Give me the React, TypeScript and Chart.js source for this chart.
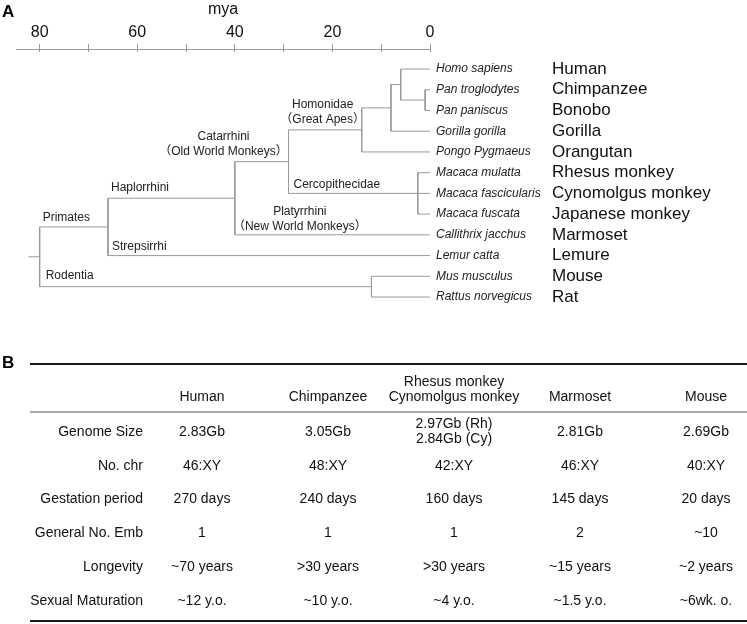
import React, { useEffect, useRef } from 'react';
import { Chart, registerables } from 'chart.js';

Chart.register(...registerables);

const FONT = "'Liberation Sans', Arial, 'Noto Sans CJK JP', sans-serif";
Chart.defaults.font.family = FONT;

// ---------- Panel A: phylogenetic tree data ----------
const speciesNames = [
  'Homo sapiens', 'Pan troglodytes', 'Pan paniscus', 'Gorilla gorilla', 'Pongo Pygmaeus',
  'Macaca mulatta', 'Macaca fascicularis', 'Macaca fuscata', 'Callithrix jacchus',
  'Lemur catta', 'Mus musculus', 'Rattus norvegicus',
];
const commonNames = [
  'Human', 'Chimpanzee', 'Bonobo', 'Gorilla', 'Orangutan', 'Rhesus monkey',
  'Cynomolgus monkey', 'Japanese monkey', 'Marmoset', 'Lemure', 'Mouse', 'Rat',
];
// internal nodes (divergence times in million years ago)
const nodeIds = ['pan', 'homoPan', 'african', 'hominidae', 'macaca', 'catarrhini', 'anthropoidea', 'haplorrhini', 'rodentia', 'primates'];
const nodeAges = [1, 6, 8, 14, 2.5, 29, 40, 66, 12, 80];
const nodeChildren: (number | string)[][] = [
  [1, 2], [0, 'pan'], ['homoPan', 3], ['african', 4], [5, 6, 7],
  ['hominidae', 'macaca'], ['catarrhini', 8], ['anthropoidea', 9], [10, 11], ['haplorrhini', 'rodentia'],
];
const rootAge = 82.3;
const axisMaxAge = 84.85;
const axisTicks = [80, 70, 60, 50, 40, 30, 20, 10, 0];
const axisLabelledTicks = [80, 60, 40, 20, 0];

const cladeLabels = [
  ['Primates'], ['Haplorrhini'], ['Strepsirrhi'], ['Rodentia'],
  ['Catarrhini', '（Old World Monkeys）'], ['Homonidae', '（Great Apes）'],
  ['Cercopithecidae'], ['Platyrrhini', '（New World Monkeys）'],
];
const cladeBranches: (number | string)[] = ['haplorrhini', 'anthropoidea', 9, 'rodentia', 'catarrhini', 'hominidae', 'macaca', 8];

// label placement styling (pixels relative to the branch)
const cladeLabelLayout = [
  { from: 'parent', align: 'left', dx: 3, dy: -9 },
  { from: 'parent', align: 'left', dx: 3, dy: -11 },
  { from: 'parent', align: 'left', dx: 4, dy: -9 },
  { from: 'parent', align: 'left', dx: 6, dy: -11 },
  { from: 'child', align: 'center', dx: -65, dy: -25 },
  { from: 'child', align: 'center', dx: -39, dy: -25 },
  { from: 'parent', align: 'left', dx: 5, dy: -9 },
  { from: 'parent', align: 'center', dx: 65, dy: -23 },
];

// ---------- Panel B: table data ----------
const columnKeys = ['Human', 'Chimpanzee', 'Rhesus/Cynomolgus', 'Marmoset', 'Mouse'];
const columnHeaders: (string | string[])[] = ['Human', 'Chimpanzee', ['Rhesus monkey', 'Cynomolgus monkey'], 'Marmoset', 'Mouse'];
const rowLabels = ['Genome Size', 'No. chr', 'Gestation period', 'General No. Emb', 'Longevity', 'Sexual Maturation'];
const genomeSize: (string | string[])[] = ['2.83Gb', '3.05Gb', ['2.97Gb (Rh)', '2.84Gb (Cy)'], '2.81Gb', '2.69Gb'];
const chromosomes = ['46:XY', '48:XY', '42:XY', '46:XY', '40:XY'];
const gestation = ['270 days', '240 days', '160 days', '145 days', '20 days'];
const embryos = ['1', '1', '1', '2', '~10'];
const longevity = ['~70 years', '>30 years', '>30 years', '~15 years', '~2 years'];
const maturation = ['~12 y.o.', '~10 y.o.', '~4 y.o.', '~1.5 y.o.', '~6wk. o.'];
const tableValues = [genomeSize, chromosomes, gestation, embryos, longevity, maturation];

const LINE = '#9a9a9a';
const alignPx = (p: number) => Math.round(p - 0.5) + 0.5;

function TreeChart() {
  const ref = useRef<HTMLCanvasElement>(null);
  useEffect(() => {
    const idx = (id: string) => nodeIds.indexOf(id);
    const yOf = (c: number | string): number => {
      if (typeof c === 'number') return c;
      const ch = nodeChildren[idx(c)];
      return (yOf(ch[0]) + yOf(ch[ch.length - 1])) / 2;
    };
    const ageOf = (c: number | string) => (typeof c === 'number' ? 0 : nodeAges[idx(c)]);
    const parentOf = (c: number | string) => nodeIds[nodeChildren.findIndex((ch) => ch.includes(c))];

    const segments: { x: number; y: number }[][] = [];
    nodeIds.forEach((id, i) => {
      const ch = nodeChildren[i];
      const a = nodeAges[i];
      segments.push([{ x: a, y: yOf(ch[0]) }, { x: a, y: yOf(ch[ch.length - 1]) }]);
      ch.forEach((c) => segments.push([{ x: a, y: yOf(c) }, { x: ageOf(c), y: yOf(c) }]));
    });
    segments.push([{ x: rootAge, y: yOf('primates') }, { x: ageOf('primates'), y: yOf('primates') }]);

    const datasets = segments.map((s) => ({
      data: s,
      showLine: true,
      borderColor: LINE,
      borderWidth: 1,
      pointRadius: 0,
      fill: false,
    }));

    const plugin = {
      id: 'treeText',
      afterDraw(chart: any) {
        const { ctx, chartArea } = chart;
        const x = chart.scales.x;
        const y = chart.scales.y;
        ctx.save();
        // tick extensions below the axis line
        ctx.strokeStyle = LINE;
        ctx.lineWidth = 1;
        axisTicks.forEach((v) => {
          const px = alignPx(x.getPixelForValue(v));
          ctx.beginPath();
          ctx.moveTo(px, chartArea.top);
          ctx.lineTo(px, chartArea.top + 3);
          ctx.stroke();
        });
        // panel letter
        ctx.fillStyle = '#000';
        ctx.textBaseline = 'middle';
        ctx.textAlign = 'left';
        ctx.font = `bold 17px ${FONT}`;
        ctx.fillText('A', 2, 12);
        // leaves
        const x0 = x.getPixelForValue(0);
        speciesNames.forEach((s, i) => {
          const py = y.getPixelForValue(i);
          ctx.font = `italic 12px ${FONT}`;
          ctx.fillStyle = '#222';
          ctx.fillText(s, x0 + 6, py);
          ctx.font = `17px ${FONT}`;
          ctx.fillStyle = '#111';
          ctx.fillText(commonNames[i], x0 + 122, py);
        });
        // clade labels
        ctx.font = `12px ${FONT}`;
        ctx.fillStyle = '#222';
        cladeLabels.forEach((lines, i) => {
          const br = cladeBranches[i];
          const lay = cladeLabelLayout[i];
          const anchorAge = lay.from === 'parent' ? ageOf(parentOf(br)) : ageOf(br);
          const ax = x.getPixelForValue(anchorAge) + lay.dx;
          const ay = y.getPixelForValue(yOf(br)) + lay.dy;
          ctx.textAlign = lay.align;
          lines.forEach((t, k) => ctx.fillText(t, ax, ay + k * 15));
        });
        ctx.restore();
      },
    };

    const chart = new Chart(ref.current!, {
      type: 'scatter',
      data: { datasets },
      options: {
        responsive: false,
        animation: false,
        devicePixelRatio: 1,
        events: [],
        layout: { padding: { left: 16, right: 317, top: 0, bottom: 10 } },
        plugins: { legend: { display: false }, tooltip: { enabled: false } },
        scales: {
          x: {
            type: 'linear',
            position: 'top',
            reverse: true,
            min: 0,
            max: axisMaxAge,
            afterBuildTicks: (s: any) => {
              s.ticks = axisTicks.map((v) => ({ value: v }));
            },
            afterFit: (s: any) => {
              s.height = 49;
            },
            ticks: {
              autoSkip: false,
              maxRotation: 0,
              padding: 2,
              color: '#111',
              font: { size: 16 },
              callback: (v: any) => (axisLabelledTicks.includes(Number(v)) ? String(v) : ''),
            },
            grid: { drawOnChartArea: false, drawTicks: true, tickLength: 5, color: LINE },
            border: { display: true, color: LINE },
            title: { display: true, text: 'mya', color: '#111', font: { size: 16 }, padding: { top: 0, bottom: 0 } },
          },
          y: {
            type: 'linear',
            display: false,
            reverse: true,
            min: -0.965,
            max: 12.108,
          },
        },
      } as any,
      plugins: [plugin],
    });
    return () => chart.destroy();
  }, []);
  return <canvas ref={ref} width={747} height={330} style={{ position: 'absolute', left: 0, top: 0, width: 747, height: 330 }} />;
}

function TableChart() {
  const ref = useRef<HTMLCanvasElement>(null);
  useEffect(() => {
    const points: { x: string; y: string }[] = [];
    rowLabels.forEach((r) => columnKeys.forEach((c) => points.push({ x: c, y: r })));

    const plugin = {
      id: 'tableText',
      afterDraw(chart: any) {
        const { ctx, chartArea } = chart;
        const meta = chart.getDatasetMeta(0);
        ctx.save();
        ctx.fillStyle = '#111';
        ctx.textBaseline = 'middle';
        ctx.textAlign = 'center';
        ctx.font = `14px ${FONT}`;
        meta.data.forEach((pt: any, k: number) => {
          const r = Math.floor(k / columnKeys.length);
          const c = k % columnKeys.length;
          const v = tableValues[r][c];
          const lines = Array.isArray(v) ? v : [v];
          const start = pt.y - ((lines.length - 1) * 15) / 2;
          lines.forEach((t, j) => ctx.fillText(t, pt.x, start + j * 15));
        });
        // rules
        ctx.strokeStyle = '#1a1a1a';
        ctx.lineWidth = 2;
        ctx.beginPath();
        ctx.moveTo(30, 34);
        ctx.lineTo(747, 34);
        ctx.stroke();
        ctx.beginPath();
        ctx.moveTo(30, chartArea.bottom + 3);
        ctx.lineTo(747, chartArea.bottom + 3);
        ctx.stroke();
        ctx.strokeStyle = '#8a8a8a';
        ctx.lineWidth = 1.5;
        ctx.beginPath();
        ctx.moveTo(30, chartArea.top - 3);
        ctx.lineTo(747, chartArea.top - 3);
        ctx.stroke();
        // panel letter
        ctx.fillStyle = '#000';
        ctx.textAlign = 'left';
        ctx.font = `bold 17px ${FONT}`;
        ctx.fillText('B', 2, 33);
        ctx.restore();
      },
    };

    const chart = new Chart(ref.current!, {
      type: 'scatter',
      data: { datasets: [{ data: points, pointRadius: 0, showLine: false }] },
      options: {
        responsive: false,
        animation: false,
        devicePixelRatio: 1,
        events: [],
        layout: { padding: { left: 0, right: 41, top: 0, bottom: 6 } },
        plugins: { legend: { display: false }, tooltip: { enabled: false } },
        scales: {
          x: {
            type: 'category',
            position: 'top',
            labels: columnKeys,
            offset: false,
            afterFit: (s: any) => {
              s.height = 85;
            },
            ticks: {
              autoSkip: false,
              maxRotation: 0,
              padding: 10,
              color: '#111',
              font: { size: 14, lineHeight: 1.07 },
              callback: (_v: any, i: number) => columnHeaders[i],
            },
            grid: { display: false, drawTicks: false },
            border: { display: false },
          },
          y: {
            type: 'category',
            position: 'left',
            labels: rowLabels,
            offset: true,
            afterFit: (s: any) => {
              s.width = 202;
              s.paddingTop = 0;
              s.paddingBottom = 0;
            },
            ticks: { autoSkip: false, padding: 59, color: '#111', font: { size: 14 } },
            grid: { display: false, drawTicks: false },
            border: { display: false },
          },
        },
      } as any,
      plugins: [plugin],
    });
    return () => chart.destroy();
  }, []);
  return <canvas ref={ref} width={747} height={294} style={{ position: 'absolute', left: 0, top: 330, width: 747, height: 294 }} />;
}

export default function App() {
  return (
    <div style={{ position: 'absolute', left: 0, top: 0, width: 747, height: 624, background: '#fff', overflow: 'hidden' }}>
      <TreeChart />
      <TableChart />
    </div>
  );
}
